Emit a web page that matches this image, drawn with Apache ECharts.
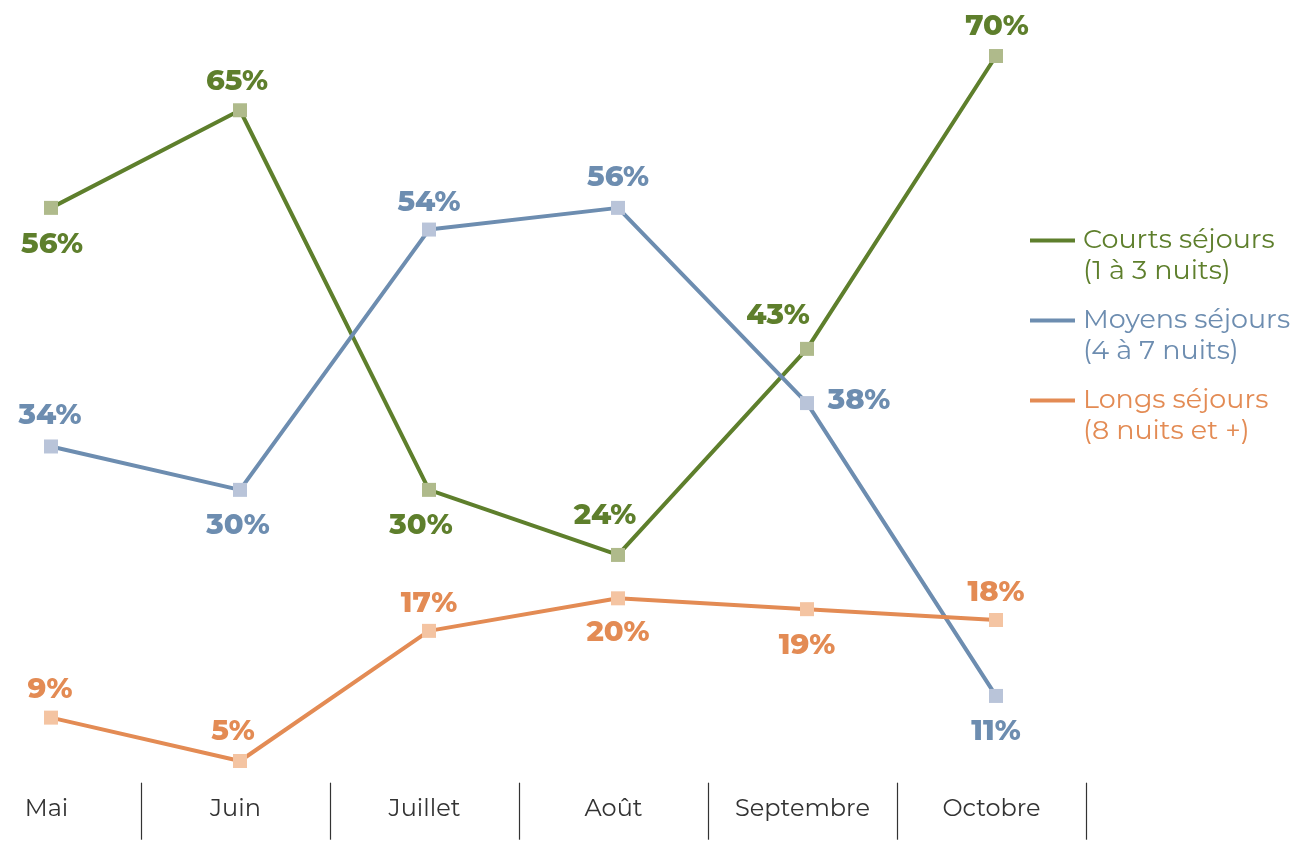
<!DOCTYPE html>
<html><head><meta charset="utf-8">
<script src="https://cdn.jsdelivr.net/npm/echarts@6/dist/echarts.min.js"></script>
<style>html,body{margin:0;padding:0;background:#fff;overflow:hidden;width:1293px;height:841px;position:relative}
#c{position:absolute;left:-48px;top:0;width:1341px;height:841px}</style>
</head><body><div id="c"></div>
<script>
const categories = ['Mai', 'Juin', 'Juillet', 'Août', 'Septembre', 'Octobre'];
const courts = [56, 65, 30, 24, 43, 70];
const moyens = [34, 30, 54, 56, 38, 11];
const longs = [9, 5, 17, 20, 19, 18];
const seriesNames = ['Courts séjours', 'Moyens séjours', 'Longs séjours'];
const legendSub = ['(1 à 3 nuits)', '(4 à 7 nuits)', '(8 nuits et +)'];

const lineColors = ['#5e7f2c', '#6d8db0', '#e38b54'];
const markerColors = ['#afba8b', '#b9c4d9', '#f4c4a2'];
const labelOffsets = [
  [[1, 37], [-3, -29], [-8, 36], [-13, -39], [-29, -33], [1, -30]],
  [[-1, -31], [-2, 36], [0, -27], [0, -30], [52, -3], [0, 36]],
  [[-1, -28], [-7, -30], [0, -27], [0, 34], [0, 36], [0, -28]]
];
const LABEL_FONT = '"Montserrat", "Open Sans", sans-serif';

function mkSeries(i, values) {
  return {
    name: seriesNames[i], type: 'line', xAxisIndex: 0, yAxisIndex: 0,
    symbol: 'rect', symbolSize: 14,
    lineStyle: { color: lineColors[i], width: 4 },
    itemStyle: { color: markerColors[i] },
    emphasis: { disabled: true },
    z: 2 + i,
    data: values.map((v, k) => ({
      value: v,
      label: {
        show: true, position: 'inside', offset: labelOffsets[i][k],
        formatter: '{c}%', color: lineColors[i],
        fontFamily: LABEL_FONT, fontWeight: 800, fontSize: 29
      }
    }))
  };
}

const legendRich = {};
lineColors.forEach((c, i) => {
  legendRich['ln' + i] = { width: 45, height: 4, backgroundColor: c, verticalAlign: 'middle' };
  legendRich['t' + i] = { color: c, fontSize: 27, lineHeight: 31, fontFamily: LABEL_FONT, padding: [0, 0, 0, 8] };
});
legendRich.sp = { width: 45, height: 4 };

const chart = echarts.init(document.getElementById('c'), null, { renderer: 'canvas' });
chart.setOption({
  animation: false,
  backgroundColor: '#fff',
  grid: [
    { left: 4.5, width: 1134, top: 1.8, bottom: 58.3 },
    { left: 0, width: 1134, top: 1.8, bottom: 58.3 }
  ],
  xAxis: [
    { type: 'category', gridIndex: 0, data: categories, boundaryGap: true, show: false },
    {
      type: 'category', gridIndex: 1, data: categories, boundaryGap: true,
      axisLine: { show: false },
      axisTick: { show: true, length: 57, lineStyle: { color: '#333', width: 1.2 } },
      axisLabel: { color: '#333', fontSize: 24, margin: 14, fontFamily: LABEL_FONT }
    }
  ],
  yAxis: [
    { type: 'value', gridIndex: 0, min: 3, max: 75, show: false },
    { type: 'value', gridIndex: 1, min: 3, max: 75, show: false }
  ],
  legend: {
    orient: 'vertical', left: 1068, top: 222, itemGap: 22,
    icon: 'rect', itemWidth: 0, itemHeight: 0,
    selectedMode: false,
    data: seriesNames.map((n, i) => ({
      name: n,
      textStyle: { rich: legendRich }
    })),
    formatter: function (name) {
      const i = seriesNames.indexOf(name);
      return '{ln' + i + '|}{t' + i + '|' + name + '}\n{sp|}{t' + i + '|' + legendSub[i] + '}';
    }
  },
  series: [mkSeries(0, courts), mkSeries(1, moyens), mkSeries(2, longs)]
});
</script>
</body></html>
